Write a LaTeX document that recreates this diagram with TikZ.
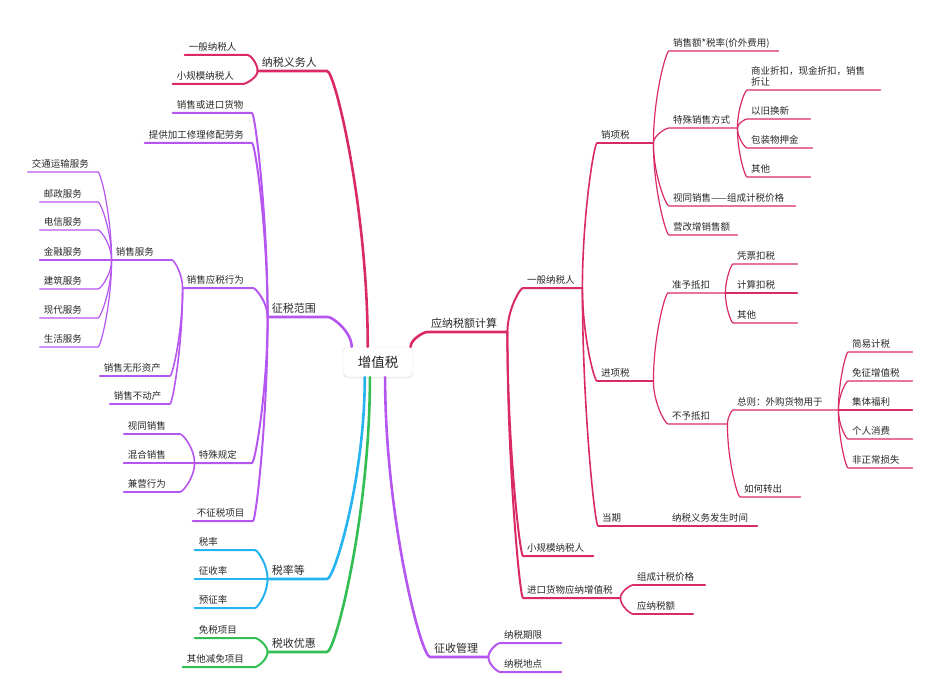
\documentclass[tikz,border=0pt]{standalone}
\usepackage{fontspec}
\setmainfont{Noto Sans CJK SC}
\usetikzlibrary{calc,shadows}
\definecolor{cr}{RGB}{218,42,100}
\definecolor{pu}{RGB}{182,86,240}
\definecolor{bl}{RGB}{38,180,240}
\definecolor{gr}{RGB}{50,190,82}
\definecolor{tx}{RGB}{40,40,40}
\newcommand\tsmall{\fontsize{9.5}{10.5}\selectfont}
\newcommand\tbig{\fontsize{11}{13}\selectfont}
\tikzset{
  rt/.style={anchor=south west,align=left,inner xsep=4pt,inner ysep=3pt,text depth=1.5pt,font=\tsmall,text=tx},
  lt/.style={rt,anchor=south east},
  big/.style={font=\tbig},
  root/.style={draw=black!12,fill=white,rounded corners=5pt,minimum width=70pt,minimum height=30pt,
    font=\fontsize{13.5}{15}\selectfont,text=tx,drop shadow={opacity=0.12,shadow xshift=0pt,shadow yshift=-1.5pt}},
  l1/.style={line width=2.6pt},
  l2/.style={line width=2pt},
  l3/.style={line width=1.6pt},
  l4/.style={line width=1.2pt},
  lnk/.style={to path={let \p1=(\tikztostart), \p2=(\tikztotarget) in
    .. controls (\x1,{(\y1+\y2)/2}) and ({\x1+0.8*(\x2-\x1)},\y2) .. (\p2)}}
}
\begin{document}
\begin{tikzpicture}[x=1pt,y=-1pt,line cap=round,line join=round]
\useasboundingbox (0,0) rectangle (941,700);
\node[root] (zzs) at (378,362) {增值税};
% left side
\node[lt,big,text width=61pt] (nsyw) at (327,71) {纳税义务人};
\node[lt,big,text width=52pt] (zsfw) at (328,317) {征税范围};
\node[lt,big,text width=51pt] (slz) at (327,579) {税率等};
\node[lt,big,text width=51pt] (ssyh) at (327,652) {税收优惠};
\node[lt,text width=55pt] (ybn) at (248,55) {一般纳税人};
\node[lt,text width=62pt] (xgn) at (243,84) {小规模纳税人};
\node[lt,text width=71pt] (xshw) at (252,113) {销售或进口货物};
\node[lt,text width=99pt] (jgxl) at (252,143) {提供加工修理修配劳务};
\node[lt,text width=62pt] (ysxw) at (253,288) {销售应税行为};
\node[lt,text width=49pt] (tsgd) at (252,463) {特殊规定};
\node[lt,text width=52pt] (bzs) at (253,521) {不征税项目};
\node[lt,text width=52pt] (sl) at (255,550) {税率};
\node[lt,text width=52pt] (zsl) at (255,579) {征收率};
\node[lt,text width=52pt] (yzl) at (255,608) {预征率};
\node[lt,text width=52pt] (msxm) at (255,638) {免税项目};
\node[lt,text width=64pt] (qtjm) at (255,667) {其他减免项目};
\node[lt,text width=52pt] (xsfw) at (172,260) {销售服务};
\node[lt,text width=62pt] (wxzc) at (170,376) {销售无形资产};
\node[lt,text width=52pt] (bdc) at (170,404) {销售不动产};
\node[lt,text width=48pt] (stxs) at (180,434) {视同销售};
\node[lt,text width=48pt] (hhxs) at (180,463) {混合销售};
\node[lt,text width=48pt] (jyxw) at (180,492) {兼营行为};
\node[lt,text width=62pt] (jtys) at (98,172) {交通运输服务};
\node[lt,text width=50pt] (yzfw) at (98,202) {邮政服务};
\node[lt,text width=50pt] (dxfw) at (98,230) {电信服务};
\node[lt,text width=50pt] (jrfw) at (98,260) {金融服务};
\node[lt,text width=50pt] (jzfw) at (98,289) {建筑服务};
\node[lt,text width=50pt] (xdfw) at (98,318) {现代服务};
\node[lt,text width=50pt] (shfw) at (98,347) {生活服务};
% right side
\node[rt,big,text width=72pt] (ynjs) at (427,332) {应纳税额计算};
\node[rt,big,text width=50pt] (zsgl) at (430,657) {征收管理};
\node[rt,text width=51pt] (ybr) at (523,288) {一般纳税人};
\node[rt,text width=62pt] (xgr) at (523,556) {小规模纳税人};
\node[rt,text width=89pt] (jkhw) at (523,598) {进口货物应纳增值税};
\node[rt,text width=53pt] (nsqx) at (500,643) {纳税期限};
\node[rt,text width=53pt] (nsdd) at (500,672) {纳税地点};
\node[rt,text width=48pt] (xxs) at (597,143) {销项税};
\node[rt,text width=48pt] (jxs) at (597,381) {进项税};
\node[rt,text width=62pt] (dq) at (598,526) {当期};
\node[rt,text width=64pt] (zcjg) at (633,585) {组成计税价格};
\node[rt,text width=52pt] (ynse) at (633,614) {应纳税额};
\node[rt,text width=101pt] (xse) at (669,51) {销售额*税率(价外费用)};
\node[rt,text width=60pt] (tsxs) at (669,128) {特殊销售方式};
\node[rt,text width=118pt] (stjg) at (669,206) {视同销售——组成计税价格};
\node[rt,text width=60pt] (ygz) at (669,235) {营改增销售额};
\node[rt,text width=49pt] (zydk) at (668,293) {准予抵扣};
\node[rt,text width=51pt] (bydk) at (668,424) {不予抵扣};
\node[rt,text width=81pt] (fssj) at (668,526) {纳税义务发生时间};
\node[rt,text width=125pt,text depth=12pt] (zkou) at (747,90) {商业折扣，现金折扣，销售\\折让};
\node[rt,text width=55pt] (yjhx) at (747,119) {以旧换新};
\node[rt,text width=57pt] (bzw) at (747,148) {包装物押金};
\node[rt,text width=55pt] (qt1) at (747,177) {其他};
\node[rt,text width=56pt] (ppks) at (733,264) {凭票扣税};
\node[rt,text width=56pt] (jsks) at (733,293) {计算扣税};
\node[rt,text width=56pt] (qt2) at (733,323) {其他};
\node[rt,text width=97pt] (zongze) at (733,410) {总则：外购货物用于};
\node[rt,text width=52pt] (hhzc) at (740,497) {如何转出};
\node[rt,text width=56pt] (jyjs) at (848,352) {简易计税};
\node[rt,text width=56pt] (mzzz) at (848,381) {免征增值税};
\node[rt,text width=56pt] (jtfl) at (848,410) {集体福利};
\node[rt,text width=56pt] (grxf) at (848,439) {个人消费};
\node[rt,text width=56pt] (fzc) at (848,468) {非正常损失};
% branches from the root
\draw[cr,l1] (zzs.124) to[lnk] (nsyw.south east) -- (nsyw.south west);
\draw[pu,l1] (zzs.150) to[lnk] (zsfw.south east) -- (zsfw.south west);
\draw[bl,l1] (zzs.229) to[lnk] (slz.south east) -- (slz.south west);
\draw[gr,l1] (zzs.242) to[lnk] (ssyh.south east) -- (ssyh.south west);
\draw[cr,l1] (zzs.25) to[lnk] (ynjs.south west) -- (ynjs.south east);
\draw[pu,l1] (zzs.295) to[lnk] (zsgl.south west) -- (zsgl.south east);
% left connectors
\draw[cr,l2] (nsyw.south west) to[lnk] (ybn.south east) -- (ybn.south west);
\draw[cr,l2] (nsyw.south west) to[lnk] (xgn.south east) -- (xgn.south west);
\draw[pu,l2] (zsfw.south west) to[lnk] (xshw.south east) -- (xshw.south west);
\draw[pu,l2] (zsfw.south west) to[lnk] (jgxl.south east) -- (jgxl.south west);
\draw[pu,l2] (zsfw.south west) to[lnk] (ysxw.south east) -- (ysxw.south west);
\draw[pu,l2] (zsfw.south west) to[lnk] (tsgd.south east) -- (tsgd.south west);
\draw[pu,l2] (zsfw.south west) to[lnk] (bzs.south east) -- (bzs.south west);
\draw[pu,l3] (ysxw.south west) to[lnk] (xsfw.south east) -- (xsfw.south west);
\draw[pu,l3] (ysxw.south west) to[lnk] (wxzc.south east) -- (wxzc.south west);
\draw[pu,l3] (ysxw.south west) to[lnk] (bdc.south east) -- (bdc.south west);
\draw[pu,l4] (xsfw.south west) to[lnk] (jtys.south east) -- (jtys.south west);
\draw[pu,l4] (xsfw.south west) to[lnk] (yzfw.south east) -- (yzfw.south west);
\draw[pu,l4] (xsfw.south west) to[lnk] (dxfw.south east) -- (dxfw.south west);
\draw[pu,l4] (xsfw.south west) to[lnk] (jrfw.south east) -- (jrfw.south west);
\draw[pu,l4] (xsfw.south west) to[lnk] (jzfw.south east) -- (jzfw.south west);
\draw[pu,l4] (xsfw.south west) to[lnk] (xdfw.south east) -- (xdfw.south west);
\draw[pu,l4] (xsfw.south west) to[lnk] (shfw.south east) -- (shfw.south west);
\draw[pu,l3] (tsgd.south west) to[lnk] (stxs.south east) -- (stxs.south west);
\draw[pu,l3] (tsgd.south west) to[lnk] (hhxs.south east) -- (hhxs.south west);
\draw[pu,l3] (tsgd.south west) to[lnk] (jyxw.south east) -- (jyxw.south west);
\draw[bl,l2] (slz.south west) to[lnk] (sl.south east) -- (sl.south west);
\draw[bl,l2] (slz.south west) to[lnk] (zsl.south east) -- (zsl.south west);
\draw[bl,l2] (slz.south west) to[lnk] (yzl.south east) -- (yzl.south west);
\draw[gr,l2] (ssyh.south west) to[lnk] (msxm.south east) -- (msxm.south west);
\draw[gr,l2] (ssyh.south west) to[lnk] (qtjm.south east) -- (qtjm.south west);
% right connectors
\draw[cr,l2] (ynjs.south east) to[lnk] (ybr.south west) -- (ybr.south east);
\draw[cr,l2] (ynjs.south east) to[lnk] (xgr.south west) -- (xgr.south east);
\draw[cr,l2] (ynjs.south east) to[lnk] (jkhw.south west) -- (jkhw.south east);
\draw[pu,l2] (zsgl.south east) to[lnk] (nsqx.south west) -- (nsqx.south east);
\draw[pu,l2] (zsgl.south east) to[lnk] (nsdd.south west) -- (nsdd.south east);
\draw[cr,l3] (ybr.south east) to[lnk] (xxs.south west) -- (xxs.south east);
\draw[cr,l3] (ybr.south east) to[lnk] (jxs.south west) -- (jxs.south east);
\draw[cr,l3] (ybr.south east) to[lnk] (dq.south west) -- (dq.south east);
\draw[cr,l3] (jkhw.south east) to[lnk] (zcjg.south west) -- (zcjg.south east);
\draw[cr,l3] (jkhw.south east) to[lnk] (ynse.south west) -- (ynse.south east);
\draw[cr,l4] (xxs.south east) to[lnk] (xse.south west) -- (xse.south east);
\draw[cr,l4] (xxs.south east) to[lnk] (tsxs.south west) -- (tsxs.south east);
\draw[cr,l4] (xxs.south east) to[lnk] (stjg.south west) -- (stjg.south east);
\draw[cr,l4] (xxs.south east) to[lnk] (ygz.south west) -- (ygz.south east);
\draw[cr,l4] (tsxs.south east) to[lnk] (zkou.south west) -- (zkou.south east);
\draw[cr,l4] (tsxs.south east) to[lnk] (yjhx.south west) -- (yjhx.south east);
\draw[cr,l4] (tsxs.south east) to[lnk] (bzw.south west) -- (bzw.south east);
\draw[cr,l4] (tsxs.south east) to[lnk] (qt1.south west) -- (qt1.south east);
\draw[cr,l4] (jxs.south east) to[lnk] (zydk.south west) -- (zydk.south east);
\draw[cr,l4] (jxs.south east) to[lnk] (bydk.south west) -- (bydk.south east);
\draw[cr,l4] (zydk.south east) to[lnk] (ppks.south west) -- (ppks.south east);
\draw[cr,l4] (zydk.south east) to[lnk] (jsks.south west) -- (jsks.south east);
\draw[cr,l4] (zydk.south east) to[lnk] (qt2.south west) -- (qt2.south east);
\draw[cr,l4] (bydk.south east) to[lnk] (zongze.south west) -- (zongze.south east);
\draw[cr,l4] (bydk.south east) to[lnk] (hhzc.south west) -- (hhzc.south east);
\draw[cr,l4] (zongze.south east) to[lnk] (jyjs.south west) -- (jyjs.south east);
\draw[cr,l4] (zongze.south east) to[lnk] (mzzz.south west) -- (mzzz.south east);
\draw[cr,l4] (zongze.south east) to[lnk] (jtfl.south west) -- (jtfl.south east);
\draw[cr,l4] (zongze.south east) to[lnk] (grxf.south west) -- (grxf.south east);
\draw[cr,l4] (zongze.south east) to[lnk] (fzc.south west) -- (fzc.south east);
\draw[cr,l4] (dq.south east) to[lnk] (fssj.south west) -- (fssj.south east);
\end{tikzpicture}
\end{document}
